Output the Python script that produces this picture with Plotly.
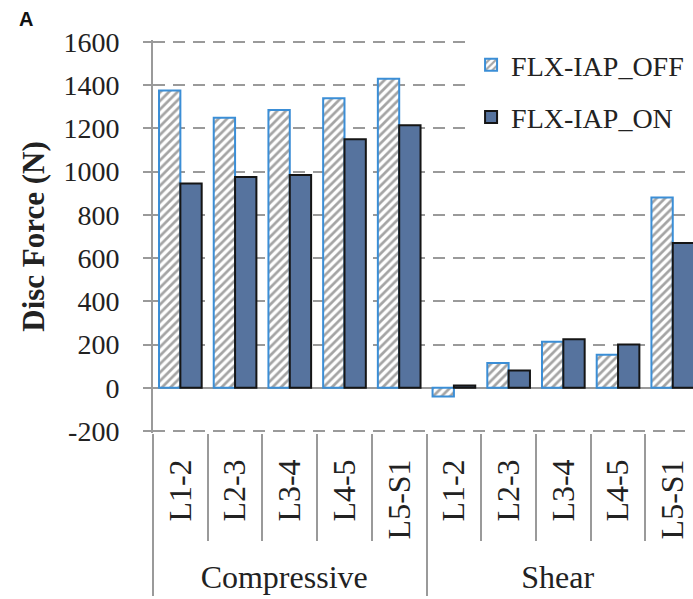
import plotly.graph_objects as go

groups = ["Compressive"] * 5 + ["Shear"] * 5
levels = ["L1-2", "L2-3", "L3-4", "L4-5", "L5-S1"] * 2
off_vals = [1375, 1250, 1285, 1340, 1430, -40, 115, 213, 153, 880]
on_vals = [945, 975, 985, 1150, 1215, 10, 80, 225, 200, 670]
y_ticks = [-200, 0, 200, 400, 600, 800, 1000, 1200, 1400, 1600]
y_tick_text = ["-200", "0", "200", "400", "600", "800", "1000", "1200", "1400", "1600"]

SERIF = "Liberation Serif, Times New Roman, serif"
GRAY = "#9a9a9a"
XR = [-0.5, 9.37]
YR = [-209.25, 1609.25]

# a leading no-break space only pads the rotated label box (pushes group row down)
level_labels = ["\u00a0" + s for s in levels]

fig = go.Figure()
fig.add_trace(go.Bar(
    x=[groups, level_labels], y=off_vals, name="FLX-IAP_OFF", legendgroup="off",
    marker=dict(color="white", line=dict(color="#3b8ed6", width=2),
                pattern=dict(shape="/", fgcolor="#4a4a4a", bgcolor="white",
                             size=6, solidity=0.45)),
))
fig.add_trace(go.Bar(
    x=[groups, level_labels], y=on_vals, name="FLX-IAP_ON", legendgroup="on",
    marker=dict(color="#56739e", line=dict(color="#151515", width=2)),
))

fig.update_layout(
    width=693, height=599,
    margin=dict(l=153, r=0, t=40, b=166, autoexpand=False),
    paper_bgcolor="white", plot_bgcolor="white",
    barmode="group", bargap=0.22, bargroupgap=0,
    font=dict(family=SERIF, color="#222222"),
    legend=dict(x=0.589, y=1.0, xanchor="left", yanchor="top",
                bgcolor="white", font=dict(family=SERIF, size=28, color="#222222"),
                traceorder="grouped", tracegroupgap=13),
    xaxis=dict(
        type="multicategory", range=XR, automargin=False,
        tickangle=-90, tickson="boundaries", ticks="outside", ticklen=107,
        tickcolor=GRAY, tickwidth=2, ticklabelstandoff=19,
        showdividers=True, dividercolor=GRAY, dividerwidth=2,
        tickfont=dict(family=SERIF, size=32, color="#222222"),
        showgrid=False, showline=False, zeroline=False,
    ),
    yaxis=dict(
        range=YR, tickvals=y_ticks, ticktext=y_tick_text, automargin=False,
        showgrid=True, gridcolor=GRAY, griddash="12px,8px", gridwidth=2,
        zeroline=True, zerolinecolor=GRAY, zerolinewidth=2,
        showline=True, linecolor=GRAY, linewidth=2,
        ticks="outside", ticklen=8, tickcolor=GRAY, tickwidth=2,
        ticklabelstandoff=18,
        tickfont=dict(family=SERIF, size=28, color="#222222"),
        title=dict(text="<b>Disc Force (N)</b>", font=dict(family=SERIF, size=31, color="#222222"),
                   standoff=10),
    ),
    annotations=[dict(text="<b>A</b>", x=-0.252, y=1.087, xref="paper", yref="paper",
                      xanchor="left", yanchor="top", showarrow=False,
                      font=dict(family="Liberation Sans, Arial", size=20, color="#111111"))],
)

fig.write_html("out.html", config={"displayModeBar": False},
               post_script="document.body.style.margin='0px';")
